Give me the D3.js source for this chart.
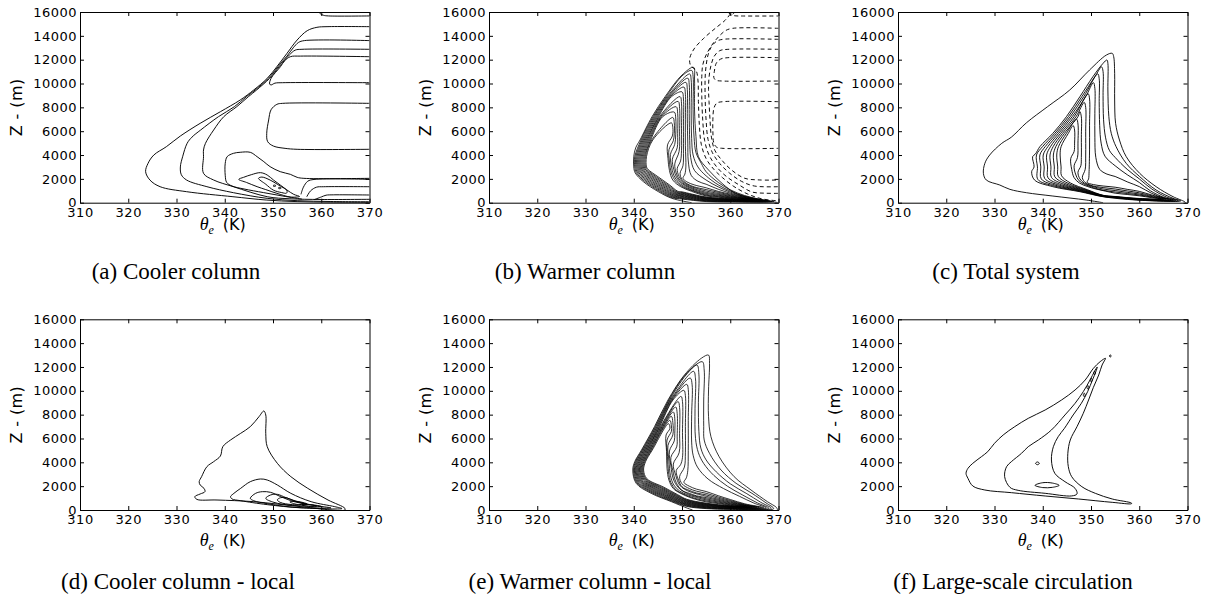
<!DOCTYPE html>
<html><head><meta charset="utf-8">
<script src="https://cdn.jsdelivr.net/npm/d3@7"></script>
<style>body{margin:0;background:#fff}svg{display:block}</style>
</head><body>
<svg id="chart" width="1214" height="596"></svg>
<script>
// ---------- tick values & captions ----------
const thetaTicks = [310,320,330,340,350,360,370];
const heightTicks = [0,2000,4000,6000,8000,10000,12000,14000,16000];
const captionTexts = ["(a) Cooler column","(b) Warmer column","(c) Total system",
  "(d) Cooler column - local","(e) Warmer column - local","(f) Large-scale circulation"];

// ---------- (a) cooler column : [theta_e (K), Z (m)] ----------
const coolerLines = [
 [[370,14770],[361.2,14770],[359.1,14714],[357.1,14434],[355,13650],[352.9,12532],[350.8,11413],[348.8,10434],[346,9455],[343.2,8616],[339.1,7637],[334.9,6658],[330.8,5595],[327.9,4699],[325.3,4000],[324.1,3300],[323.6,2600],[324.5,1900],[326.6,1343],[332.1,923],[341.7,503],[348.6,224],[355,90],[362,30],[370,15]],
 [[370,13600],[356.5,13600],[355.3,13450],[354.2,13000],[352.9,12300],[351.6,11700],[351.05,11413],[349.05,10434],[346.3,9455],[344.5,8900],[342.0,8057],[338.7,7218],[335.0,6098],[333.2,5500],[332.2,4980],[331.3,3900],[330.8,3000],[331,2350],[332.1,1900],[336.3,1344],[341.8,840],[348.8,365],[355,170],[362,100],[370,80]],
 [[370,12870],[356,12870],[354.6,12800],[353.4,12400],[352.3,11900],[351.3,11413],[349.3,10434],[346.6,9455],[344.9,8896],[342.5,8057],[339.8,7218],[337.7,6098],[336.0,4980],[335.6,4422],[335.6,3861],[335.6,2464],[337.7,1903],[341.8,1343],[348.8,503],[353.5,330],[360,270],[370,285]],
 [[370,12250],[355.7,12300],[353.6,12250],[352.4,11900],[351.55,11413],[349.6,10434],[349.3,9950],[349.6,9880],[350.4,10030],[352,10068],[370,10068]],
 [[370,8336],[352,8336],[350.8,8250],[349.6,7800],[349.1,6940],[348.7,5820],[348.9,5120],[350.1,4750],[352.5,4560],[355,4480],[370,4480]],
 [[356,300],[352,560],[348,850],[344,1150],[341.5,1400],[340.4,1700],[340.1,2300],[340.1,3303],[340.5,3862],[341.8,4142],[343.2,4230],[345.3,4226],[346.7,3862],[348.1,3443],[349.4,3023],[351.5,2604],[353.6,2380],[355,2128],[356.4,2044],[370,2044]],
 [[355.8,700],[356.3,1300],[357.2,1800],[358.5,1950],[370,1960]],
 [[357,500],[357.8,1000],[359,1300],[360.5,1340],[370,1340]],
 [[358.5,250],[360,480],[361,630],[362.5,660],[370,646]],
 [[359.6,16000],[359.8,15850],[360.5,15720],[361.5,15670],[370,15670]]
];
const coolerLoops = [
 [[342.9,1960],[343.9,2128],[345.5,2350],[347.4,2520],[348.8,2324],[350.1,1904],[351.5,1485],[352.9,1065],[354.3,700],[355.5,520],[353.6,480],[350.8,786],[348.5,1100],[346.7,1345],[344.5,1700]],
 [[347,2044],[347.7,2150],[349.4,1900],[351.0,1520],[352.9,1000],[352.8,800],[351.8,850],[350.1,1050],[348.5,1550]],
 [[350.0,1420],[350.3,1480],[350.6,1420],[350.3,1360]],
 [[351.1,1230],[351.4,1290],[351.7,1230],[351.4,1170]]
];

// ---------- (b) warmer column ----------
const warmerOuter = [[352.0,0],[347.9,365],[345.1,925],[342.0,1764],[340.3,2500],[340.0,3000],[340.0,3862],[340.4,4600],[341.3,5260],[343.8,7218],[346.5,8896],[350.0,10714],[352.4,11358],[352.6,10295],[352.6,7778],[352.9,5540],[353.4,3862],[355.5,2743],[358.3,1624],[361.1,785],[364.2,400],[367.7,143],[369.8,20]];
const warmerLoops = [
 [[369.05,75],[360,55],[355,95],[350,305],[348.0,415],[345.3,970],[342.25,1799],[340.52,2525],[340.22,3000],[340.22,3862],[341.52,5260],[344.02,7218],[346.72,8896],[350.22,10714],[352.0,11100],[352.3,10600],[352.3,7800],[352.5,5500],[352.9,4200],[354.0,3300],[355,2600],[357.5,1700],[360,1080],[363,600],[366,300]],
 [[368.6,90],[360,80],[355,130],[350,360],[348.1,465],[345.5,1015],[342.5,1834],[340.74,2550],[340.44,3000],[340.44,3862],[341.74,5260],[344.24,7218],[346.94,8896],[351.6,10800],[351.9,10300],[351.9,7700],[352.0,5400],[352.3,4000],[353.3,3000],[355,2250],[357.5,1500],[360,980],[363,550],[366,280]],
 [[368.15,105],[360,105],[355,165],[350,415],[348.2,515],[345.7,1060],[342.75,1869],[340.96,2575],[340.66,3000],[340.66,3862],[341.96,5260],[344.46,7218],[347.16,8896],[351.2,10450],[351.5,9900],[351.5,7500],[351.6,5200],[351.8,3800],[352.6,2700],[355,1900],[357.5,1330],[360,890],[363,500],[366,250]],
 [[367.7,120],[360,130],[355,200],[350,470],[348.3,565],[345.9,1105],[343.0,1904],[341.18,2600],[340.88,3000],[340.88,3862],[342.18,5260],[344.68,7218],[347.38,8896],[350.8,10100],[351.1,9500],[351.1,7200],[351.2,5000],[351.3,3500],[351.9,2300],[353.3,1800],[355,1550],[357.5,1130],[360,800],[363,450],[365.5,250]],
 [[367.25,135],[360,155],[355,235],[350,525],[348.4,615],[346.1,1150],[343.25,1939],[341.4,2625],[341.1,3000],[341.1,3862],[342.4,5260],[344.9,7218],[347.6,8896],[350.4,9700],[350.7,9100],[350.7,7000],[350.7,4800],[350.8,3000],[350.6,2400],[350.2,2050],[351,1750],[352.5,1500],[355,1250],[357.5,950],[360,720],[362.5,480],[365,270]],
 [[366.8,150],[360,180],[355,270],[350,580],[348.5,665],[346.3,1195],[343.5,1974],[341.62,2650],[341.32,3000],[341.32,3862],[342.62,5260],[345.12,7218],[347.82,8896],[350.0,9300],[350.3,8700],[350.3,6500],[350.3,4500],[350.2,3100],[349.6,2460],[350.0,1950],[351,1600],[352.5,1330],[355,1100],[357.5,870],[360,650],[363,400],[365,260]],
 [[366.35,165],[360,205],[355,305],[350,635],[348.6,715],[346.5,1240],[343.75,2009],[341.84,2675],[341.54,3000],[341.54,3862],[342.84,5260],[345.34,7218],[349.6,8900],[349.9,8300],[349.9,6200],[349.9,4400],[349.7,3500],[349.0,2850],[349.4,2200],[350.2,1750],[351.5,1420],[353,1200],[355,980],[357.5,780],[360,590],[363,370]],
 [[365.9,180],[360,230],[355,340],[350,690],[348.7,765],[346.7,1285],[344.0,2044],[342.06,2700],[341.76,3000],[341.76,3862],[343.06,5260],[345.56,7218],[349.2,8500],[349.5,7900],[349.5,6000],[349.4,4300],[348.5,3250],[348.8,2500],[349.5,1900],[350.7,1500],[352.5,1170],[355,870],[357.5,700],[360,540],[363,350]],
 [[365.45,195],[360,255],[355,375],[350,745],[348.8,815],[346.9,1330],[344.25,2079],[342.28,2725],[341.98,3000],[341.98,3862],[343.28,5260],[345.78,7218],[348.8,8050],[349.1,7500],[349.1,5800],[349.0,4600],[348.0,3650],[348.3,2800],[348.9,2100],[350,1600],[351.8,1200],[355,780],[357.5,630],[360,490],[363,330]],
 [[365,210],[360,280],[355,410],[350,800],[348.9,865],[347.1,1375],[344.5,2114],[342.5,2750],[342.2,3000],[342.2,3862],[343.5,5260],[346.0,7218],[348.4,7600],[348.7,7100],[348.7,5700],[348.5,4900],[347.6,4050],[347.8,3100],[348.3,2300],[349.3,1700],[351,1250],[355,700],[357.5,570],[360,445],[363,320]],
 [[364.55,225],[360,305],[355,445],[350,855],[349.0,915],[347.3,1420],[344.75,2149],[342.72,2775],[342.42,3000],[342.42,3862],[343.72,5260],[348.1,7150],[348.4,6700],[348.4,5800],[348.2,5200],[347.3,4450],[347.4,3400],[347.8,2500],[348.7,1800],[350.3,1300],[352.5,950],[355,630],[357.5,510],[360,405],[362.5,310]],
 [[364.1,240],[360,330],[355,480],[350,910],[349.1,965],[347.5,1465],[345.0,2184],[342.94,2800],[342.64,3000],[342.64,3862],[343.94,5260],[347.8,6700],[348.1,6300],[348.0,5600],[347.0,4850],[347.1,3700],[347.4,2700],[348.1,1900],[349.7,1350],[352,950],[355,570],[357.5,460],[360,370],[362,290]]
];
const warmerNegLines = [
 [[359.7,16000],[360.1,15780],[361,15680],[362.5,15665],[370,15665]],
 [[360,15832],[359,15330],[356.9,14630],[354.5,13790],[352.5,12900],[351.6,12100],[351.8,11500],[352.9,11100],[353.3,10300],[353.4,8500],[353.6,6500],[354.0,4900],[355.0,3700],[356.6,2800],[358.4,2100],[360.6,1400],[363.5,750],[366.5,330],[370,150]],
 [[370,14630],[360.5,14630],[359,14434],[357.6,13930],[356.2,13230],[355.0,12392],[354.3,11553],[354.1,10574],[354.1,8896],[354.3,6938],[354.7,5200],[355.6,4000],[357.2,3000],[359.2,2200],[361.8,1500],[364.5,900],[367,800],[370,784]],
 [[370,13707],[358.5,13707],[357.2,13550],[356.1,13100],[355.4,12400],[355.0,11500],[354.8,10500],[354.8,8800],[355.0,6900],[355.4,5300],[356.3,4200],[357.8,3300],[359.8,2500],[362.3,1800],[365,1400],[370,1344]],
 [[370,12868],[359.5,12868],[357.8,12750],[356.7,12300],[356.0,11500],[355.6,10500],[355.5,9500],[355.6,8500],[355.8,7000],[356.1,5500],[356.8,4400],[358.4,3500],[360.4,2700],[363,2050],[366,1910],[370,1903]],
 [[370,12168],[359.5,12168],[358,12050],[357.1,11700],[356.7,11000],[356.6,10500],[357.0,10280],[358.3,10210],[370,10210]],
 [[370,8476],[358.5,8476],[357.2,8350],[356.6,7900],[356.4,7000],[356.4,6000],[356.6,5000],[357.2,4650],[358.5,4560],[370,4560]]
];
const warmerNegLoops = [
 [[359.8,15880],[360.2,15990],[360.7,15900],[360.3,15790]]
];

// ---------- (c) total system ----------
const totalOuter = [[352.5,0],[349,224],[342.1,559],[336.6,839],[333.2,1119],[331.1,1483],[328.3,1903],[327.7,2463],[328,3302],[329,4001],[331.5,4980],[333.5,5500],[336.6,6700],[341,8057],[345.6,9456],[349.7,11134],[353.2,12392],[354.4,12532],[354.7,12253],[354.9,10854],[354.9,8617],[355.1,6658],[355.9,5260],[357.3,3862],[360.1,2463],[363.5,1344],[367,505],[369.4,85],[369.6,0]];
const totalLoops = [
 [[368.6,150],[359.4,224],[352.5,503],[347.7,923],[342.1,1343],[338.3,1903],[337.7,2600],[338.2,3000],[337.9,3861],[338.5,4100],[339.4,4700],[342.1,5820],[344.9,7218],[347.7,8897],[350.4,10574],[352.5,11693],[353.3,11973],[353.5,11693],[353.5,9456],[353.7,7218],[354.2,5820],[355.2,4700],[357.3,3302],[360.1,2184],[363.5,1065],[367,366]],
 [[368.1,170],[360,228],[355,415],[352.5,518],[347.9,943],[342.55,1383],[339.0,1948],[338.9,3000],[338.7,4001],[339.95,4700],[342.5,5820],[345.3,7218],[348.1,8897],[350.8,10574],[352.2,11394],[352.5,11000],[352.5,9000],[352.6,7000],[353.0,5500],[353.8,4400],[355,3800],[357.5,2800],[360,2000],[362.6,1150],[365.6,480]],
 [[367.6,190],[360,246],[355,430],[352.5,533],[348.1,963],[343.0,1423],[339.7,1993],[339.6,3000],[339.4,4001],[340.5,4700],[342.9,5820],[345.7,7218],[348.5,8897],[351.4,10815],[351.7,10400],[351.7,8500],[351.8,6500],[352.1,5000],[352.9,3900],[355,3100],[357.5,2350],[360,1700],[362.3,1000],[365.2,430]],
 [[367.1,210],[360,264],[355,445],[352.5,548],[348.3,983],[343.45,1463],[340.4,2038],[340.3,3000],[340.1,4001],[341.05,4700],[343.3,5820],[346.1,7218],[348.9,8897],[350.5,10077],[350.8,9600],[350.8,7500],[350.8,5500],[351.0,3800],[351.8,2800],[353.3,2400],[355,2200],[357.5,1750],[360,1350],[362.5,800],[365,400]],
 [[366.6,230],[360,282],[355,460],[352.5,563],[348.5,1003],[343.9,1503],[341.1,2083],[341.0,3000],[340.8,4001],[341.6,4700],[343.7,5820],[346.5,7218],[349.4,9145],[349.7,8700],[349.7,6500],[349.7,4500],[349.6,2600],[349.5,2000],[349.2,1700],[350.5,1520],[352.5,1400],[355,1300],[357.5,1120],[360,950],[362.8,620]],
 [[366.1,250],[360,300],[355,475],[352.5,578],[348.7,1023],[344.35,1543],[341.8,2128],[341.7,3000],[341.5,4001],[342.15,4700],[344.1,5820],[346.9,7218],[348.6,8417],[348.9,8000],[348.9,6000],[348.9,4000],[348.8,2800],[348.2,2100],[348.8,1700],[350,1450],[352.5,1270],[355,1150],[357.5,990],[360,830],[363,540]],
 [[365.6,270],[360,318],[355,490],[352.5,593],[348.9,1043],[344.8,1583],[342.5,2173],[342.4,3000],[342.2,4001],[342.7,4700],[344.5,5820],[347.3,7218],[347.7,7638],[348.0,7200],[348.0,5500],[348.0,3800],[347.9,3100],[347.3,2550],[347.7,2000],[348.7,1620],[350.2,1380],[352.5,1150],[355,1020],[357.5,870],[360,730],[363,480]],
 [[365.1,290],[360,336],[355,505],[352.5,608],[349.1,1063],[345.25,1623],[343.2,2218],[343.1,3000],[342.9,4001],[343.25,4700],[344.9,5820],[347.0,7018],[347.3,6600],[347.3,5000],[347.2,3800],[346.5,3100],[346.8,2400],[347.5,1850],[348.8,1520],[350.5,1260],[352.5,1040],[355,900],[357.5,770],[360,650],[362.8,450]],
 [[364.6,310],[360,354],[355,520],[352.5,623],[349.3,1083],[345.7,1663],[343.9,2263],[343.8,3000],[343.6,4001],[343.8,4700],[345.3,5820],[346.3,6469],[346.6,6100],[346.6,5000],[346.5,4300],[345.8,3700],[346.0,2800],[346.5,2100],[347.6,1650],[349.2,1370],[351,1150],[353,970],[355,800],[357.5,690],[360,580],[362.5,430]]
];

// ---------- (d) cooler column - local ----------
const coolerLocalLoops = [
 [[364.9,0],[355.8,280],[346.0,699],[338.4,839],[334.2,895],[333.8,1119],[334.9,1343],[335.9,1538],[335.7,1818],[334.9,2098],[334.7,2377],[335.2,2797],[336.3,3636],[337.7,4056],[339.1,4531],[339.6,5314],[341.2,5874],[343.3,6433],[345.3,6993],[347.1,7832],[348.1,8307],[348.5,7972],[348.5,6433],[348.8,5314],[350.9,3916],[353.7,2797],[357.2,1818],[361.4,839],[364.9,140]],
 [[341.2,1119],[341.9,1398],[343.3,1818],[345.3,2377],[347.4,2601],[348.8,2517],[350.9,2098],[353.7,1398],[357.9,699],[362.8,280],[364.3,120],[355.8,180],[348.8,450],[343.3,780],[341.5,930]],
 [[345.3,979],[346.4,1398],[347.8,1538],[349.5,1482],[351.6,1119],[354.4,699],[359.3,336],[362,180],[354.4,230],[348.8,530],[346,780]],
 [[348.5,979],[349.5,1259],[350.9,1314],[352.7,1035],[355.8,615],[359,330],[353.7,400],[350.2,640]],
 [[350.9,850],[351.6,1035],[353,1000],[354.4,755],[357,470],[354,450],[351.5,640]],
 [[353.5,680],[355,720],[357,520],[355,470]],
 [[356,420],[358,440],[360,300],[358,280]]
];

// ---------- (e) warmer column - local ----------
const warmerLocalOuter = [[352.2,0],[351.2,140],[347.8,700],[343.6,1400],[340.5,2240],[339.8,3350],[340.2,4050],[341.6,5030],[344.3,6990],[347.1,9230],[350.5,11330],[354.0,12730],[355.5,13000],[355.7,12300],[355.5,10070],[355.5,7830],[356.0,6150],[357.7,4470],[360.8,2800],[364.3,1680],[367.7,700],[369.6,200],[369.8,0]];
const warmerLocalLoops = [
 [[369,115],[360,55],[355,118],[351,300],[347.9,745],[343.8,1440],[340.67,2270],[339.97,3350],[340.37,4050],[341.77,5030],[344.47,6990],[347.27,9230],[350.67,11330],[354.2,12445],[354.6,11750],[354.5,9230],[354.5,6990],[354.6,5870],[355.7,4750],[358.1,3350],[361.2,2240],[364.5,1400],[367.4,600]],
 [[368.5,130],[360,80],[355,156],[351,350],[348.0,790],[344.0,1480],[340.84,2300],[340.14,3350],[340.54,4050],[341.94,5030],[344.64,6990],[347.44,9230],[350.84,11330],[353.1,12165],[353.5,11400],[353.4,9000],[353.5,6600],[353.9,5200],[355.0,4200],[357.1,3200],[360.0,2200],[363.3,1400],[366.3,650]],
 [[368,145],[360,105],[355,194],[351,400],[348.1,835],[344.2,1520],[341.01,2330],[340.32,3350],[340.72,4050],[342.12,5030],[344.82,6990],[347.62,9230],[352.4,11634],[352.8,11000],[352.7,8500],[352.8,6000],[353.4,4800],[354.5,3900],[356.6,2900],[359.4,2000],[362.6,1250],[365.6,600]],
 [[367.5,160],[360,130],[355,232],[351,450],[348.2,880],[344.4,1560],[341.18,2360],[340.49,3350],[340.89,4050],[342.29,5030],[344.99,6990],[347.79,9230],[351.7,11075],[352.1,10500],[352.0,8000],[352.0,5700],[352.3,4600],[353.2,3600],[355.4,2600],[358.6,1800],[361.9,1150],[364.9,580]],
 [[367,175],[360,155],[355,270],[351,500],[348.3,925],[344.6,1600],[341.35,2390],[340.66,3350],[341.06,4050],[342.46,5030],[345.16,6990],[347.96,9230],[351.0,10543],[351.3,10100],[351.3,7500],[351.3,5000],[351.2,3300],[350.9,2700],[350.4,2320],[351.5,2000],[353,1750],[355,1550],[357.5,1200],[360,880],[363,520]],
 [[366.5,190],[360,180],[355,308],[351,550],[348.4,970],[344.8,1640],[341.52,2420],[340.83,3350],[341.23,4050],[342.63,5030],[345.33,6990],[348.13,9230],[350.4,10040],[350.7,9600],[350.7,7000],[350.7,4800],[350.5,3600],[349.5,2796],[350.0,2200],[351.5,1800],[353,1580],[355,1400],[357.5,1090],[360,800],[363,470]],
 [[366,205],[360,205],[355,346],[351,600],[348.5,1015],[345.0,1680],[341.69,2450],[341.0,3350],[341.4,4050],[342.8,5030],[345.5,6990],[349.8,9536],[350.1,9100],[350.1,6500],[350.1,4400],[349.7,3800],[348.8,3300],[349.3,2500],[350,1950],[351.5,1650],[353,1430],[355,1270],[357.5,990],[360,730],[363,430]],
 [[365.5,220],[360,230],[355,384],[351,650],[348.6,1060],[345.2,1720],[341.86,2480],[341.18,3350],[341.58,4050],[342.98,5030],[345.68,6990],[349.2,9089],[349.5,8600],[349.5,6400],[349.4,4800],[348.2,3858],[348.7,2900],[349.5,2100],[350.5,1750],[352,1480],[355,1150],[357.5,900],[360,660],[363,400]],
 [[365,235],[360,255],[355,422],[351,700],[348.7,1105],[345.4,1760],[342.03,2510],[341.35,3350],[341.75,4050],[343.15,5030],[345.85,6990],[348.7,8641],[349.0,8100],[349.0,6200],[348.9,5300],[347.7,4418],[348.1,3300],[348.8,2300],[350,1650],[351.5,1400],[353,1190],[355,1040],[357.5,820],[360,600],[363,380]],
 [[364.5,250],[360,280],[355,460],[351,750],[348.8,1150],[345.6,1800],[342.2,2540],[341.52,3350],[341.92,4050],[343.32,5030],[346.02,6990],[348.2,8222],[348.5,7700],[348.5,6400],[348.4,5800],[347.4,4949],[347.7,3700],[348.2,2600],[349.2,1900],[350.5,1500],[352,1250],[355,940],[357.5,740],[360,540],[362.5,380]],
 [[364,265],[360,305],[355,498],[351,800],[348.9,1195],[345.8,1840],[342.37,2570],[341.69,3350],[342.09,4050],[343.49,5030],[346.19,6990],[347.8,7858],[348.1,7350],[348.1,6300],[347.1,5425],[347.3,4100],[347.6,2900],[348.3,2100],[349.5,1600],[351,1300],[353,1050],[355,850],[357.5,670],[360,490],[362,380]],
 [[363.5,280],[360,330],[355,536],[351,850],[349.0,1240],[346.0,1880],[342.54,2600],[341.86,3350],[342.26,4050],[343.66,5030],[346.36,6990],[347.5,7522],[347.8,7050],[347.8,6600],[346.9,5872],[347.0,4500],[347.2,3200],[347.7,2300],[348.7,1700],[350.2,1350],[352.5,1000],[355,760],[357.5,600],[360,440],[361.8,360]],
 [[363,295],[360,355],[355,574],[351,900],[349.1,1285],[346.2,1920],[342.71,2630],[342.04,3350],[342.44,4050],[343.84,5030],[347.2,7243],[347.5,6850],[346.7,6292],[346.8,4900],[346.9,3500],[347.3,2500],[348.2,1800],[349.7,1400],[352,1000],[355,680],[357.5,540],[360,390],[361.5,330]]
];

// ---------- (f) large-scale circulation ----------
const largeScaleLoops = [
 [[358.4,530],[354.4,643],[347.4,923],[340.5,1175],[333.5,1454],[328,1678],[325.5,2014],[324.5,2657],[324.1,3077],[324.5,3496],[325.5,3916],[327.3,4475],[328.6,4895],[330,5594],[331.8,6293],[334.2,6993],[337,7692],[340.5,8391],[343.9,9230],[346.7,10070],[348.8,10909],[350.5,11888],[351.9,12447],[353,12727],[352.3,12167],[351.6,11328],[350.5,10293],[349.5,9230],[348.4,8112],[347.1,6993],[345.7,5874],[345.2,4755],[345.3,3636],[346.0,2797],[348.1,1958],[350.9,1398],[354.4,923],[358.4,580]],
 [[333.2,1902],[332.1,2797],[332.5,3636],[333.5,4056],[335.6,4755],[337,5314],[339.1,5874],[341.8,6713],[344.6,7972],[346.7,8950],[348.4,9929],[349.8,10909],[350.7,11608],[351.3,12000],[351.0,11600],[350.3,10909],[349.3,9929],[348.0,8950],[346.3,7972],[344.5,6853],[343.2,6153],[342.2,5314],[341.8,4196],[342.5,3077],[344.6,2377],[346.7,1818],[347.1,1350],[346.0,1180],[340.5,1400],[334.9,1650]],
 [[338.4,2070],[340,2290],[342,2260],[343.4,2070],[342,1900],[340,1880]],
 [[338.5,3916],[338.9,4030],[339.3,3916],[338.9,3800]],
 [[348.4,9650],[348.6,9800],[348.8,9650],[348.6,9500]],
 [[349.15,10300],[349.35,10450],[349.55,10300],[349.35,10150]],
 [[349.85,10900],[350.05,11050],[350.25,10900],[350.05,10750]],
 [[350.55,11500],[350.75,11650],[350.95,11500],[350.75,11350]],
 [[353.8,12923],[354,13010],[354.2,12923],[354,12836]]
];

// ---------- layout ----------
const svg = d3.select("#chart");
const PW = 289.5, PH = 190.7;
const colLeft = [80, 489, 898];
const rowTop = [12, 319.3];
const rowXLabel = [230, 546];
const rowCaption = [279, 589];
const capX = [176, 585, 1006, 178, 590, 1013];

const panels = [
 {col:0,row:0,sw:0.95,open:coolerLines,closed:coolerLoops},
 {col:1,row:0,sw:0.8,open:[warmerOuter],closed:warmerLoops,dOpen:warmerNegLines,dClosed:warmerNegLoops},
 {col:2,row:0,sw:0.9,open:[totalOuter],closed:totalLoops},
 {col:0,row:1,sw:0.95,open:[],closed:coolerLocalLoops},
 {col:1,row:1,sw:0.8,open:[warmerLocalOuter],closed:warmerLocalLoops},
 {col:2,row:1,sw:0.95,open:[],closed:largeScaleLoops}
];

const tickFont = "DejaVu Sans, Verdana, sans-serif";

panels.forEach((p,i)=>{
  const x0 = colLeft[p.col], y0 = rowTop[p.row];
  const x = d3.scaleLinear().domain([310,370]).range([x0, x0+PW]);
  const y = d3.scaleLinear().domain([0,16000]).range([y0+PH, y0]);
  const g = svg.append("g");
  const cid = "clip"+i;
  g.append("clipPath").attr("id",cid).append("rect")
    .attr("x",x0).attr("y",y0).attr("width",PW).attr("height",PH);
  const cg = g.append("g").attr("clip-path",`url(#${cid})`);
  const lineOpen = d3.line().x(d=>x(d[0])).y(d=>y(d[1])).curve(d3.curveCatmullRom.alpha(0.5));
  const lineClosed = d3.line().x(d=>x(d[0])).y(d=>y(d[1])).curve(d3.curveCatmullRomClosed.alpha(0.5));
  const draw = (arr, gen, dashed) => {
    cg.selectAll(null).data(arr||[]).enter().append("path")
      .attr("d", gen).attr("fill","none").attr("stroke","#000")
      .attr("stroke-width", dashed ? 0.95 : p.sw).attr("stroke-linejoin","round")
      .attr("stroke-dasharray", dashed ? "4,3" : null);
  };
  draw(p.open, lineOpen, false);
  draw(p.closed, lineClosed, false);
  draw(p.dOpen, lineOpen, true);
  draw(p.dClosed, lineClosed, true);

  // axes (ticks inward on all four sides)
  const styleAxis = (sel) => {
    sel.selectAll("path.domain").attr("stroke","#000").attr("stroke-width",1);
    sel.selectAll(".tick line").attr("stroke","#000").attr("stroke-width",1);
    sel.selectAll(".tick text").attr("fill","#000").attr("font-family",tickFont)
      .attr("font-size",13).attr("letter-spacing","0.5px");
  };
  g.append("g").attr("transform",`translate(0,${y0+PH})`)
    .call(d3.axisBottom(x).tickValues(thetaTicks).tickSizeInner(-4).tickSizeOuter(0).tickPadding(5).tickFormat(d3.format("d")))
    .call(styleAxis);
  g.append("g").attr("transform",`translate(0,${y0})`)
    .call(d3.axisTop(x).tickValues(thetaTicks).tickSizeInner(-4).tickSizeOuter(0).tickFormat(""))
    .call(styleAxis);
  g.append("g").attr("transform",`translate(${x0},0)`)
    .call(d3.axisLeft(y).tickValues(heightTicks).tickSizeInner(-4).tickSizeOuter(0).tickPadding(3).tickFormat(d3.format("d")))
    .call(styleAxis);
  g.append("g").attr("transform",`translate(${x0+PW},0)`)
    .call(d3.axisRight(y).tickValues(heightTicks).tickSizeInner(-4).tickSizeOuter(0).tickFormat(""))
    .call(styleAxis);

  // y label
  g.append("text").attr("transform",`translate(${x0-58},${y0+PH/2}) rotate(-90)`)
    .attr("text-anchor","middle").attr("font-family",tickFont).attr("font-size",16)
    .attr("letter-spacing","0.4px").attr("fill","#000").text("Z - (m)");

  // x label
  const xl = g.append("text").attr("x", x0+PW/2-2).attr("y", rowXLabel[p.row])
    .attr("text-anchor","middle").attr("fill","#000");
  xl.append("tspan").attr("font-family","Liberation Serif, Times New Roman, serif")
    .attr("font-style","italic").attr("font-size",18).text("θ");
  xl.append("tspan").attr("font-family","Liberation Serif, Times New Roman, serif")
    .attr("font-style","italic").attr("font-size",12).attr("dy",4).text("e");
  xl.append("tspan").attr("font-family",tickFont).attr("font-size",16)
    .attr("dy",-4).attr("dx",9).text("(K)");

  // caption
  g.append("text").attr("x",capX[i]).attr("y",rowCaption[p.row]).attr("text-anchor","middle")
    .attr("font-family","Liberation Serif, Times New Roman, serif").attr("font-size",23)
    .attr("fill","#000").text(captionTexts[i]);
});
</script>
</body></html>
